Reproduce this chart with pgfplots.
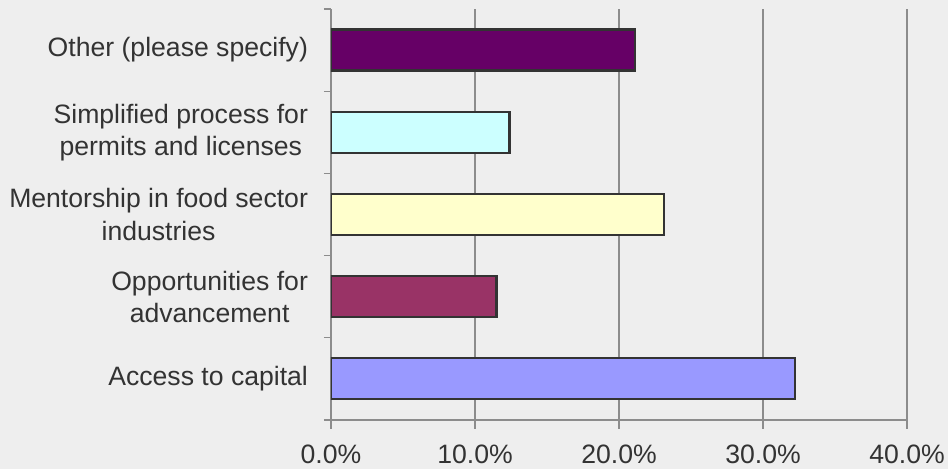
\documentclass[border=0pt]{standalone}
\usepackage{pgfplots}
\pgfplotsset{compat=1.18}
\usepackage{fontspec}
\setmainfont{Liberation Sans}
\definecolor{bg}{HTML}{EEEEEE}
\definecolor{txt}{HTML}{333333}
\definecolor{gridc}{HTML}{8C8C8C}
\definecolor{edge}{HTML}{333333}
\definecolor{cother}{HTML}{660066}
\definecolor{csimpl}{HTML}{CCFFFF}
\definecolor{cmentor}{HTML}{FFFFCC}
\definecolor{coppor}{HTML}{993366}
\definecolor{caccess}{HTML}{9999FF}

\begin{document}
\begin{tikzpicture}
% page background, sized like the reference (1px = 0.5pt)
\path[use as bounding box, fill=bg] (-165.5pt,-24.5pt) rectangle (308.5pt,210pt);
\begin{axis}[
    at={(0,0)}, anchor=south west,
    scale only axis, width=288pt, height=205.5pt,
    xmin=0, xmax=40, ymin=-0.5, ymax=4.5,
    xbar, bar width=20.5pt, bar shift=0pt,
    axis x line*=bottom, axis y line*=left,
    axis line style={gridc, line width=0.6pt},
    xtick={0,10,20,30,40},
    xmajorgrids, grid style={gridc, line width=0.6pt},
    tick align=outside,
    major tick length=4.5pt, minor tick length=3.5pt,
    xtick style={gridc, line width=0.6pt},
    ytick={0,1,2,3,4},
    ytick style={draw=none},
    minor ytick={-0.5,0.5,1.5,2.5,3.5,4.5},
    minor y tick style={draw=gridc, line width=0.6pt},
    yticklabels={Access to capital, Opportunities for\\advancement, Mentorship in food sector\\industries, Simplified process for\\permits and licenses, Other (please specify)},
    /pgf/number format/assume math mode=true,
    xticklabel={\pgfmathprintnumber[fixed,fixed zerofill,precision=1]{\tick}\%},
    ticklabel style={font=\fontsize{13.3}{16}\selectfont, text=txt},
    yticklabel style={align=center, anchor=east, xshift=-3.5pt},
    xticklabel style={yshift=-4.5pt},
    every axis plot/.append style={draw=edge, line width=1.1pt},
]
\addplot[fill=caccess] coordinates {(32.2,0)};
\addplot[fill=coppor] coordinates {(11.5,1)};
\addplot[fill=cmentor] coordinates {(23.1,2)};
\addplot[fill=csimpl] coordinates {(12.4,3)};
\addplot[fill=cother] coordinates {(21.1,4)};
\end{axis}
\end{tikzpicture}
\end{document}
